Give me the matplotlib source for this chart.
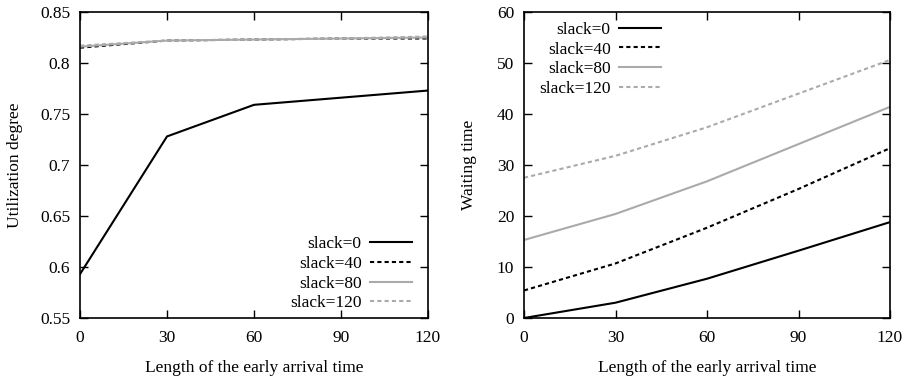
import matplotlib
matplotlib.use("Agg")
import matplotlib.pyplot as plt

x = [0, 30, 60, 90, 120]
labels = ["slack=0", "slack=40", "slack=80", "slack=120"]

util_s0 = [0.593, 0.728, 0.759, 0.766, 0.773]
util_s40 = [0.815, 0.822, 0.823, 0.824, 0.824]
util_s80 = [0.816, 0.822, 0.823, 0.824, 0.825]
util_s120 = [0.817, 0.822, 0.823, 0.824, 0.826]

wait_s0 = [0.0, 3.0, 7.7, 13.2, 18.8]
wait_s40 = [5.4, 10.7, 17.7, 25.3, 33.3]
wait_s80 = [15.3, 20.4, 26.8, 34.1, 41.4]
wait_s120 = [27.5, 31.8, 37.4, 44.0, 50.6]

plt.rcParams['font.family'] = ['Liberation Serif', 'DejaVu Serif']
plt.rcParams['font.size'] = 12.5

styles = [
    dict(color='black', linestyle='-', linewidth=1.5),
    dict(color='black', linestyle=(0, (2, 1.5)), linewidth=1.5),
    dict(color='#aaaaaa', linestyle='-', linewidth=1.5),
    dict(color='#aaaaaa', linestyle=(0, (2, 1.5)), linewidth=1.5),
]

fig = plt.figure(figsize=(9.10, 3.76), dpi=100)
ax1 = fig.add_axes([80/910, 1 - 318/376, (428-80)/910, (318-12)/376])
ax2 = fig.add_axes([524/910, 1 - 318/376, (890-524)/910, (318-12)/376])

for series, lab, st in zip([util_s0, util_s40, util_s80, util_s120], labels, styles):
    ax1.plot(x, series, label=lab, **st)
for series, lab, st in zip([wait_s0, wait_s40, wait_s80, wait_s120], labels, styles):
    ax2.plot(x, series, label=lab, **st)

ax1.set_xlim(0, 120)
ax1.set_ylim(0.55, 0.85)
ax1.set_yticks([0.55, 0.6, 0.65, 0.7, 0.75, 0.8, 0.85])
ax1.set_yticklabels(["0.55", "0.6", "0.65", "0.7", "0.75", "0.8", "0.85"])
ax1.set_ylabel("Utilization degree", labelpad=12)

ax2.set_xlim(0, 120)
ax2.set_ylim(0, 60)
ax2.set_yticks([0, 10, 20, 30, 40, 50, 60])
ax2.set_ylabel("Waiting time", labelpad=14)

for ax in (ax1, ax2):
    ax.set_xticks([0, 30, 60, 90, 120])
    ax.set_xlabel("Length of the early arrival time", labelpad=10)
    ax.tick_params(direction='in', top=True, right=True, length=5.5, width=1)
    ax.tick_params(axis='y', pad=7)
    ax.tick_params(axis='x', pad=9)
    for sp in ax.spines.values():
        sp.set_linewidth(1.2)

common = dict(frameon=False, markerfirst=False, handlelength=2.4,
              labelspacing=0.2, borderpad=0, borderaxespad=0, handletextpad=0.5)
ax1.legend(loc='lower right', bbox_to_anchor=(0.954, 0.022), **common)
ax2.legend(loc='upper right', bbox_to_anchor=(0.374, 0.968), **common)

fig.savefig("out.png", dpi=100)
